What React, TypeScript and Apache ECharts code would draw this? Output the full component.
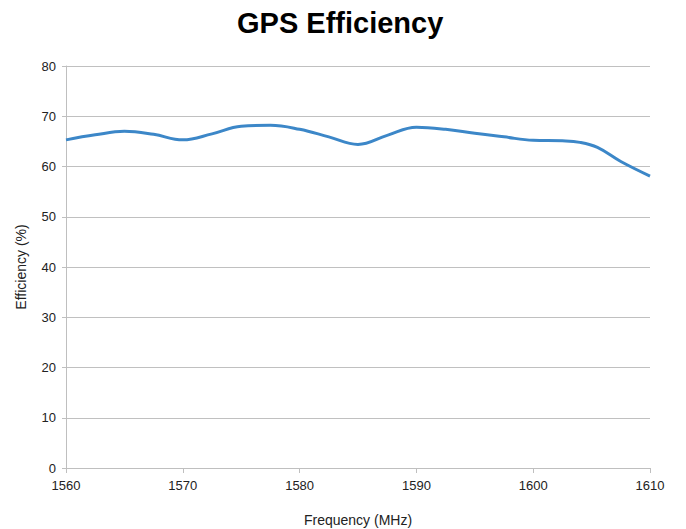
import React, { useEffect, useRef } from "react";
import * as echarts from "echarts";

const frequencies = [1560, 1562.5, 1565, 1567.5, 1570, 1572.5, 1575, 1577.5, 1580, 1582.5, 1585, 1587.5, 1590, 1592.5, 1595, 1597.5, 1600, 1602.5, 1604, 1605.5, 1607.5, 1610];
const efficiency = [65.3, 66.3, 67.0, 66.4, 65.3, 66.5, 68.0, 68.2, 67.4, 65.9, 64.4, 66.2, 67.8, 67.4, 66.6, 65.9, 65.2, 65.1, 64.8, 63.8, 61.0, 58.1];
const yTicks = [0, 10, 20, 30, 40, 50, 60, 70, 80];
const xTicks = [1560, 1570, 1580, 1590, 1600, 1610];

export default function App() {
  const ref = useRef<HTMLDivElement>(null);
  useEffect(() => {
    if (!ref.current) return;
    const chart = echarts.init(ref.current, null, { renderer: "svg" });
    const font = "Liberation Sans, Arial, sans-serif";
    chart.setOption({
      animation: false,
      backgroundColor: "#ffffff",
      title: {
        text: "GPS Efficiency",
        left: 232,
        top: 3,
        textStyle: { fontSize: 29, fontWeight: "bold", color: "#000", fontFamily: font },
      },
      grid: { left: 66, right: 36, top: 66, bottom: 61, outerBoundsMode: "none", containLabel: false },
      xAxis: {
        type: "value",
        min: xTicks[0],
        max: xTicks[xTicks.length - 1],
        interval: 10,
        name: "Frequency (MHz)",
        nameLocation: "middle",
        nameGap: 45,
        nameTextStyle: { fontSize: 14, color: "#222", fontFamily: font },
        axisLine: { show: true, lineStyle: { color: "#bfbfbf", width: 1 } },
        axisTick: { show: true, length: 5, lineStyle: { color: "#bfbfbf" } },
        axisLabel: { fontSize: 13, color: "#222", margin: 11, fontFamily: font, formatter: (v: number) => String(v) },
        splitLine: { show: false },
      },
      yAxis: {
        type: "value",
        min: yTicks[0],
        max: yTicks[yTicks.length - 1],
        interval: 10,
        name: "Efficiency (%)",
        nameLocation: "middle",
        nameGap: 38,
        nameTextStyle: { fontSize: 14, color: "#222", fontFamily: font },
        axisLine: { show: true, lineStyle: { color: "#bfbfbf", width: 1 } },
        axisTick: { show: true, length: 4, lineStyle: { color: "#bfbfbf" } },
        axisLabel: { fontSize: 13, color: "#222", margin: 10, fontFamily: font },
        splitLine: { show: true, lineStyle: { color: "#c0c0c0", width: 1 } },
      },
      series: [
        {
          type: "line",
          data: frequencies.map((f, i) => [f, efficiency[i]]),
          smooth: 0.4,
          showSymbol: false,
          lineStyle: { color: "#3c87c8", width: 3 },
          itemStyle: { color: "#3c87c8" },
        },
      ],
    });
    return () => chart.dispose();
  }, []);
  return (
    <div
      ref={ref}
      style={{ position: "fixed", left: 0, top: 0, width: 686, height: 529 }}
    />
  );
}
